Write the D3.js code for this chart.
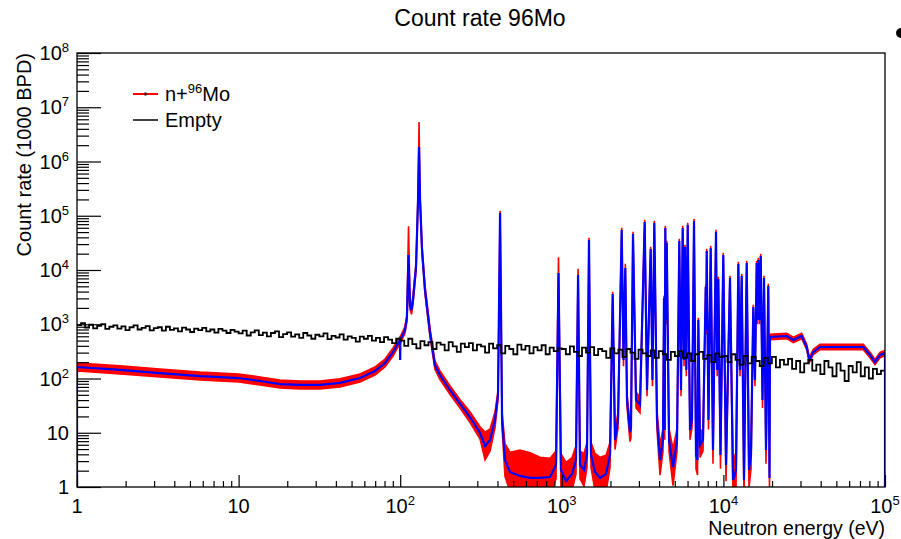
<!DOCTYPE html>
<html><head><meta charset="utf-8">
<script src="https://cdn.jsdelivr.net/npm/d3@7"></script>
<style>
body{margin:0;background:#fff}
svg{display:block}
text{font-family:"Liberation Sans",Arial,Helvetica,sans-serif;fill:#000}
</style>
</head><body>
<svg id="chart" width="901" height="539"></svg>
<script>
// ---------------- DATA ----------------
const chartTitle = "Count rate 96Mo";
const xTitle = "Neutron energy (eV)";
const yTitle = "Count rate (1000 BPD)";
const xMajorTicks = [1, 10, 100, 1000, 10000, 100000];
const xTickExp = [0, 1, 2, 3, 4, 5];
const yMajorTicks = [1, 10, 1e2, 1e3, 1e4, 1e5, 1e6, 1e7, 1e8];
const yTickExp = [0, 1, 2, 3, 4, 5, 6, 7, 8];

// n+96Mo : energy (eV), fitted/central rate (blue), relative error-band factor (red)
const muEnergy = [1, 1, 1.85, 3.26, 5.77, 10, 13.6, 18.0, 24.0, 31.9, 42.4, 56.4, 69.8, 80.5, 90.3,
  99.7, 100, 100.2, 107, 110, 112.6, 115, 117.5, 120, 125.3, 128.9, 130.8, 132.7, 136.5, 142.4,
  153, 164, 176, 203, 235, 270, 312, 335, 360, 386, 403, 415, 427, 445, 478, 551, 636, 733, 845,
  921, 954, 988, 1062, 1157, 1224, 1261, 1296, 1372, 1432, 1473, 1516, 1605, 1724, 1877, 1988,
  2065, 2134, 2228, 2348, 2409, 2472, 2532, 2642, 2680, 2758, 2879, 3048, 3258, 3367, 3548, 3640,
  3736, 3882, 4053, 4229, 4290, 4334, 4371, 4415, 4459, 4608, 4877, 5164, 5335, 5466, 5600, 5705,
  5787, 5895, 6014, 6214, 6394, 6579, 6769, 6915, 6995, 7166, 7477, 7772, 7827, 7883, 8087, 8344,
  8622, 9000, 9155, 9300, 9594, 9984, 10380, 10985, 11470, 11970, 12370, 12670, 12980, 13410,
  13940, 14400, 14820, 15310, 15680, 16070, 16250, 16440, 16730, 17020, 17460, 17840, 18350,
  18960, 19290, 19430, 24650, 27080, 30520, 32780, 34010, 35990, 39610, 73420, 80770, 86740,
  93110, 100000, 100000];
const muRate = [1, 163, 144, 126, 111, 102, 90, 79, 76, 76, 83, 102, 137, 193, 308,
  513, 219, 513, 784, 1300, 18900, 2260, 1830, 2800, 11400, 195000, 1.85e6, 195000, 23400, 4280,
  690, 177, 116, 61.4, 33.9, 19.5, 9.9, 5.7, 7.35, 17.2, 49.6, 112000, 17.2, 3.15, 1.89, 1.6, 1.47, 1.47, 1.53,
  2.55, 8800, 2.06, 1.29, 1.74, 3.15, 8100, 2.55, 2.06, 3.89, 35700, 3.89, 1.89, 1.47, 1.74, 3.89,
  3610, 7.35, 17.2, 54600, 219, 10900, 40.2, 10.3, 12.2, 46100, 40.2, 32.5, 76700, 61.4, 24400, 93.8,
  73500, 17.2, 3.15, 7.35, 3050, 11.2, 59400, 1200, 31500, 7.35, 2.34, 7.35, 34300, 61.4, 59400, 219,
  26500, 143, 67500, 11.2, 17.2, 80000, 3.89, 3.15, 1200, 5.95, 7.35, 4860, 784, 22400, 17.2, 25400,
  4.81, 50100, 143, 6830, 3.89, 18900, 2.55, 7120, 1.35, 2.06, 12900, 143, 7750, 1.35,
  13500, 2.06, 3.89, 2080, 93.8, 13500, 1200, 15300, 1200, 18100, 40.2, 7120, 4.81,
  5070, 1.47, 582, 607, 514, 607, 381, 219, 308, 381, 381, 271, 201,
  271, 295, 1];
const muErr = [1, 1.185, 1.185, 1.185, 1.185, 1.185, 1.185, 1.185, 1.185, 1.185, 1.185, 1.185, 1.185, 1.185, 1.185,
  1.15, 1, 1.15, 1.15, 1.15, 3.4, 1.2, 1.2, 1.2, 1.2, 1.2, 2.9, 1.2, 1.2, 1.2,
  1.2, 1.2, 1.2, 1.2, 1.2, 1.25, 1.3, 1.8, 1.6, 1.4, 1.2, 1.1, 1.4, 2, 2.3, 3, 2.9, 2.4, 2.2,
  1.8, 1.95, 2, 2.2, 2, 1.8, 1.3, 1.8, 2, 1.7, 1.1, 1.7, 2.2, 2.4, 2.2, 1.7,
  1.1, 1.5, 1.4, 1.1, 1.3, 1.2, 1.3, 1.5, 1.5, 1.1, 1.4, 1.4, 1.1, 1.3, 1.1, 1.3,
  1.1, 1.5, 1.9, 1.6, 1.1, 1.5, 1.1, 1.2, 1.1, 1.6, 2.2, 1.6, 1.1, 1.3, 1.1, 1.3,
  1.1, 1.3, 1.1, 1.5, 1.4, 1.1, 1.8, 1.9, 1.1, 1.7, 1.6, 1.1, 1.2, 1.1, 1.5, 1.1,
  1.8, 1.1, 1.3, 1.1, 1.8, 1.1, 2, 1.1, 2.3, 2.1, 1.1, 1.3, 1.1, 2.3,
  1.1, 2.1, 1.8, 1.1, 1.3, 1.1, 1.2, 1.1, 1.2, 1.1, 1.4, 1.1, 1.8,
  1.1, 2, 1.12, 1.12, 1.12, 1.12, 1.12, 1.12, 1.12, 1.12, 1.12, 1.12, 1.12,
  1.12, 1.12, 1];

// Empty : histogram, 40 log bins per decade from 1 eV to 100 keV
const emptyBinsPerDecade = 40;
const emptyCounts = [
  960, 1050, 870, 980, 840, 930, 1000, 820, 900, 950, 830, 910, 780, 880, 950, 800, 860, 920, 770, 850,
  880, 760, 900, 790, 840, 740, 870, 800, 720, 830, 780, 860, 740, 800, 700, 820, 760, 690, 790, 730,
  680, 760, 620, 710, 770, 630, 700, 600, 690, 740, 580, 660, 710, 590, 650, 560, 690, 620, 540, 640,
  600, 680, 530, 610, 570, 650, 520, 600, 560, 480, 590, 540, 610, 500, 560, 470, 580, 520, 450, 540,
  500, 400, 540, 430, 360, 490, 410, 470, 350, 460, 420, 330, 470, 390, 310, 440, 380, 450, 330, 420,
  390, 300, 440, 360, 410, 290, 400, 350, 280, 420, 340, 400, 290, 380, 330, 410, 280, 370, 320, 360,
  350, 280, 390, 310, 260, 370, 300, 380, 270, 350, 320, 240, 360, 290, 340, 250, 350, 300, 230, 340,
  290, 260, 330, 240, 320, 280, 220, 310, 260, 320, 240, 290, 210, 280, 310, 230, 270, 200, 290, 250,
  260, 200, 280, 220, 180, 260, 190, 250, 210, 170, 240, 190, 250, 160, 220, 180, 230, 150, 210, 130,
  190, 220, 140, 180, 120, 210, 160, 110, 190, 140, 90, 170, 130, 200, 110, 160, 100, 150, 120, 140];

const legendLabels = ["n+", "96", "Mo", "Empty"];

// ---------------- CHART ----------------
const svg = d3.select("#chart");
const W = 901, H = 539;
const m = {left: 77, right: 885, top: 53, bottom: 487};
const x = d3.scaleLog().domain([1, 1e5]).range([m.left, m.right]);
const y = d3.scaleLog().domain([1, 1e8]).range([m.bottom, m.top]);

svg.append("rect").attr("width", W).attr("height", H).attr("fill", "#fff");

svg.append("defs").append("clipPath").attr("id", "clip")
  .append("rect").attr("x", m.left).attr("y", m.top)
  .attr("width", m.right - m.left).attr("height", m.bottom - m.top);

const plot = svg.append("g").attr("clip-path", "url(#clip)");

const mu = muEnergy.map((e, i) => ({e, v: muRate[i], err: muErr[i]}));
const clampY = v => y(Math.max(v, 0.05));

// red error band
plot.append("path")
  .datum(mu)
  .attr("d", d3.area().x(d => x(d.e)).y0(d => clampY(d.v / d.err)).y1(d => clampY(d.v * d.err)))
  .attr("fill", "#ff0000").attr("stroke", "#ff0000").attr("stroke-width", 1.6);

// blue central line
plot.append("path")
  .datum(mu)
  .attr("d", d3.line().x(d => x(d.e)).y(d => clampY(d.v)))
  .attr("fill", "none").attr("stroke", "#0000ff").attr("stroke-width", 2.2);

// Empty histogram (step)
const emptyPts = emptyCounts.map((c, i) => ({e: Math.pow(10, i / emptyBinsPerDecade), v: c}));
emptyPts.push({e: 1e5, v: emptyCounts[emptyCounts.length - 1]});
plot.append("path")
  .datum(emptyPts)
  .attr("d", d3.line().curve(d3.curveStepAfter).x(d => x(d.e)).y(d => y(d.v)))
  .attr("fill", "none").attr("stroke", "#000").attr("stroke-width", 1.8);

// axes
const minorX = [];
for (let p = 0; p < 5; p++) for (let k = 2; k <= 9; k++) minorX.push(k * Math.pow(10, p));
const minorY = [];
for (let p = 0; p < 8; p++) for (let k = 2; k <= 9; k++) minorY.push(k * Math.pow(10, p));

function styleAxis(g) {
  g.select(".domain").remove();
  g.selectAll("line").attr("stroke", "#000").attr("stroke-width", 1.2);
}
svg.append("g").attr("transform", `translate(0,${m.bottom})`)
  .call(d3.axisBottom(x).tickValues(xMajorTicks).tickSize(-12).tickFormat(() => "")).call(styleAxis);
svg.append("g").attr("transform", `translate(0,${m.bottom})`)
  .call(d3.axisBottom(x).tickValues(minorX).tickSize(-6).tickFormat(() => "")).call(styleAxis);
svg.append("g").attr("transform", `translate(${m.left},0)`)
  .call(d3.axisLeft(y).tickValues(yMajorTicks).tickSize(-24).tickFormat(() => "")).call(styleAxis);
svg.append("g").attr("transform", `translate(${m.left},0)`)
  .call(d3.axisLeft(y).tickValues(minorY).tickSize(-12).tickFormat(() => "")).call(styleAxis);

// frame
svg.append("rect").attr("x", m.left).attr("y", m.top)
  .attr("width", m.right - m.left).attr("height", m.bottom - m.top)
  .attr("fill", "none").attr("stroke", "#000").attr("stroke-width", 1.3);

function powLabel(sel, exp) {
  if (exp === 0) { sel.text("1"); return; }
  if (exp === 1) { sel.text("10"); return; }
  sel.append("tspan").text("10");
  sel.append("tspan").attr("dy", -8).attr("font-size", 13).text(String(exp));
}

// x tick labels
xMajorTicks.forEach((t, i) => {
  const tx = svg.append("text").attr("x", x(t)).attr("y", 513)
    .attr("text-anchor", "middle").attr("font-size", 20);
  powLabel(tx, xTickExp[i]);
});
// y tick labels
yMajorTicks.forEach((t, i) => {
  const tx = svg.append("text").attr("x", 69).attr("y", y(t) + 7)
    .attr("text-anchor", "end").attr("font-size", 20);
  powLabel(tx, yTickExp[i]);
});

// titles
svg.append("text").attr("x", 480).attr("y", 26)
  .attr("text-anchor", "middle").attr("font-size", 23).text(chartTitle);
svg.append("text").attr("x", m.right).attr("y", 535)
  .attr("text-anchor", "end").attr("font-size", 19.5).text(xTitle);
svg.append("text").attr("transform", `translate(31,${m.top}) rotate(-90)`)
  .attr("text-anchor", "end").attr("font-size", 20).text(yTitle);

// legend
const lg = svg.append("g");
lg.append("line").attr("x1", 133).attr("x2", 158).attr("y1", 94).attr("y2", 94)
  .attr("stroke", "#ff0000").attr("stroke-width", 2);
lg.append("rect").attr("x", 144.5).attr("y", 92.5).attr("width", 2).attr("height", 3).attr("fill", "#000");
const l1 = lg.append("text").attr("x", 165).attr("y", 101).attr("font-size", 20);
l1.append("tspan").text(legendLabels[0]);
l1.append("tspan").attr("dy", -8).attr("font-size", 13).text(legendLabels[1]);
l1.append("tspan").attr("dy", 8).text(legendLabels[2]);
lg.append("line").attr("x1", 133).attr("x2", 158).attr("y1", 120).attr("y2", 120)
  .attr("stroke", "#000").attr("stroke-width", 1.5);
lg.append("text").attr("x", 165).attr("y", 127).attr("font-size", 20).text(legendLabels[3]);

// stray marker at top-right corner
svg.append("circle").attr("cx", 901).attr("cy", 33).attr("r", 5).attr("fill", "#000");
</script>
</body></html>
